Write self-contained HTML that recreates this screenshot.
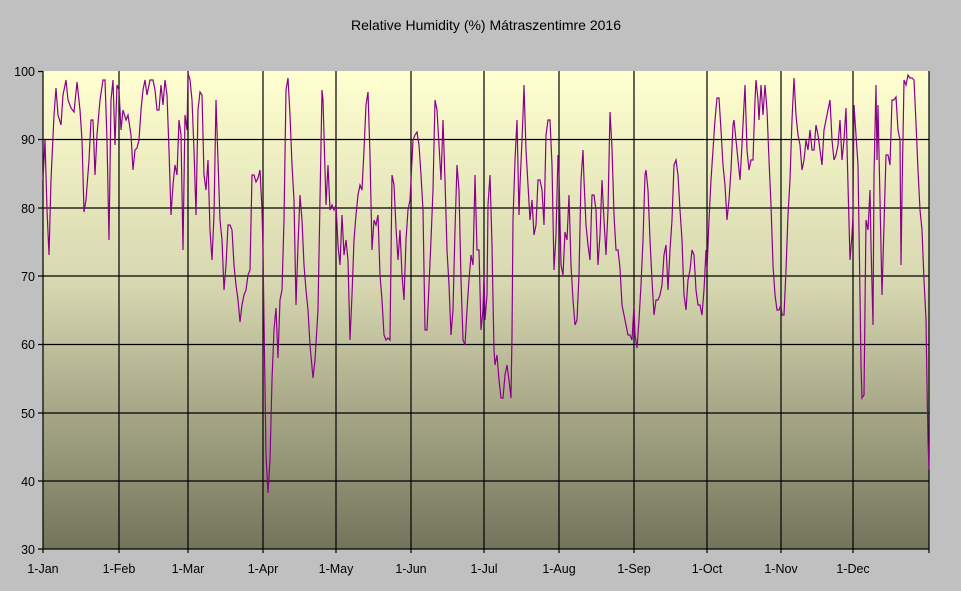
<!DOCTYPE html>
<html><head><meta charset="utf-8"><style>
html,body{margin:0;padding:0;background:#c0c0c0;}
svg{display:block;font-family:"Liberation Sans",sans-serif;}
</style></head><body>
<svg width="961" height="591" viewBox="0 0 961 591">
<defs><linearGradient id="g" x1="0" y1="0" x2="0" y2="1">
<stop offset="0" stop-color="#ffffd0"/><stop offset="0.45" stop-color="#d6d6b0"/><stop offset="1" stop-color="#74745c"/></linearGradient></defs>
<rect x="0" y="0" width="961" height="591" fill="#c0c0c0"/>
<text x="486" y="30" font-size="14" text-anchor="middle" fill="#000">Relative Humidity (%) Mátraszentimre 2016</text>
<rect x="43" y="71" width="886" height="478" fill="url(#g)"/>
<g stroke="#000" stroke-width="1.2" fill="none">
<path d="M43 139.5H929M43 208H929M43 276H929M43 344.5H929M43 413H929M43 481H929"/>
<path d="M119 71V553M188 71V553M263 71V553M336 71V553M411 71V553M484 71V553M559 71V553M634 71V553M707 71V553M781 71V553M853 71V553M929 71V553M43 71V553"/>
<path d="M38 71.5H43M38 139.5H43M38 208H43M38 276H43M38 344.5H43M38 413H43M38 481H43M38 549H43"/>
<path d="M43 549H929"/>
</g>
<g font-size="12.5" fill="#000" text-anchor="end">
<text x="35" y="76">100</text><text x="35" y="144">90</text><text x="35" y="213">80</text><text x="35" y="281">70</text><text x="35" y="349">60</text><text x="35" y="418">50</text><text x="35" y="486">40</text><text x="35" y="554">30</text>
</g>
<g font-size="12.5" fill="#000" text-anchor="middle">
<text x="43" y="573">1-Jan</text><text x="119" y="573">1-Feb</text><text x="188" y="573">1-Mar</text><text x="263" y="573">1-Apr</text><text x="336" y="573">1-May</text><text x="411" y="573">1-Jun</text><text x="484" y="573">1-Jul</text><text x="559" y="573">1-Aug</text><text x="634" y="573">1-Sep</text><text x="707" y="573">1-Oct</text><text x="781" y="573">1-Nov</text><text x="853" y="573">1-Dec</text>
</g>
<polyline fill="none" stroke="#8b008b" stroke-width="1.2" points="
43,180 45,140 47,210 49,255 51,180 54,115 56,88 58,115 61,125 63,95 66,80 68,100 71,108 74,112 77,82 80,110 82,140 84,212 86,200 89,160 91,120 93,120 95,175 97,135 100,100 103,80 105,80 107,140 109,240 111,100 113,80 115,145 117,85 119,90
121,130 123,110 126,120 128,115 131,135 133,170 135,150 137,148 139,140 141,110 143,90 145,80 147,95 150,80 153,80 155,90 157,110 159,110 161,85 163,105 165,80 167,95 169,150 171,215 173,185 175,165 177,175 179,120 181,135 183,250 185,115 187,130 188,73
190,80 192,100 194,150 196,215 198,110 200,92 202,95 204,175 206,190 208,160 210,230 212,260 214,215 216,100 218,160 220,220 222,240 224,290 226,265 228,225 230,225 232,230 234,265 236,285 238,300 240,322 242,305 244,295 246,290 248,275 250,270 252,175 254,175 256,182 258,178 260,170 262,210 263,250
264,320 266,455 268,493 270,460 272,380 274,330 276,308 278,358 280,300 282,290 284,220 286,90 288,78 290,115 292,165 294,200 296,305 298,245 300,195 302,220 304,265 306,290 308,310 310,345 313,378 315,360 318,310 320,200 322,90 323,100 326,205 328,165 330,210 332,205 334,210 336,205
338,245 340,265 342,215 344,255 346,240 348,260 350,340 352,295 354,240 356,215 358,195 360,185 362,190 364,150 366,105 368,92 370,155 372,250 374,220 376,225 378,215 380,275 382,300 384,335 386,340 388,338 390,340 392,175 394,185 396,228 398,260 400,230 402,275 404,300 406,240 408,210 410,200 411,180
413,140 415,135 417,132 419,145 421,175 423,210 425,330 427,330 429,285 431,240 433,190 435,100 437,110 439,145 441,180 443,120 445,180 447,250 449,285 451,335 453,310 455,230 457,165 459,190 461,280 463,340 465,345 467,310 469,280 471,255 473,265 475,175 477,250 479,250 481,330 483,310 484,275
485,320 487,295 488,205 490,175 492,245 493,300 494,350 495,365 497,355 499,380 501,398 503,398 505,375 507,365 509,380 511,398 512,335 513,220 515,160 517,120 519,215 520,185 522,140 523,115 524,85 526,150 528,185 530,220 532,200 534,235 536,225 538,180 540,180 542,190 544,225 546,135 548,120 550,120 552,165 554,270 556,235 558,155
559,175 561,265 563,275 565,232 567,240 569,195 571,265 573,300 575,325 577,320 579,275 581,180 583,150 584,180 586,225 588,245 590,260 592,195 594,195 596,210 598,265 600,235 602,180 604,220 606,255 608,210 610,112 612,148 614,215 616,250 618,250 620,268 622,305 624,315 626,325 628,335 630,335 632,340 634,305
635,335 637,348 639,320 641,285 643,240 645,175 646,170 648,190 650,240 652,280 654,315 656,300 658,300 660,295 662,285 664,255 666,245 668,290 670,250 672,220 674,165 676,160 678,175 680,210 682,240 684,295 686,310 688,280 690,270 692,250 694,255 696,290 698,305 700,305 702,315 704,290 706,250 707,270
709,220 711,180 713,150 715,120 717,98 719,98 721,130 723,165 725,185 727,220 729,200 731,170 733,125 734,120 736,140 738,160 740,180 742,145 744,105 745,85 747,150 749,170 751,160 753,160 755,100 756,80 758,100 759,120 761,85 763,115 765,85 767,110 769,160 771,205 773,265 775,295 777,310 779,310 781,305
782,315 784,315 786,270 788,215 790,180 792,120 794,78 796,115 798,135 800,145 802,170 804,160 806,140 808,150 810,130 812,150 814,150 816,125 818,135 820,150 822,165 824,130 826,120 828,110 830,100 832,140 834,160 836,155 838,145 840,120 842,160 844,140 846,108 848,185 850,260 852,235 853,215
854,105 856,135 858,165 860,295 861,365 862,398 864,395 866,220 868,230 870,190 871,245 873,325 874,175 876,85 877,160 878,105 880,200 882,295 884,225 886,155 888,155 890,165 892,100 894,100 896,97 898,130 900,140 901,265 902,195 904,80 906,85 908,75 910,78 912,78 914,80 916,123 918,170 920,210 922,230 924,280 926,320 927,385 928,440 929,470"/>
</svg>
</body></html>
